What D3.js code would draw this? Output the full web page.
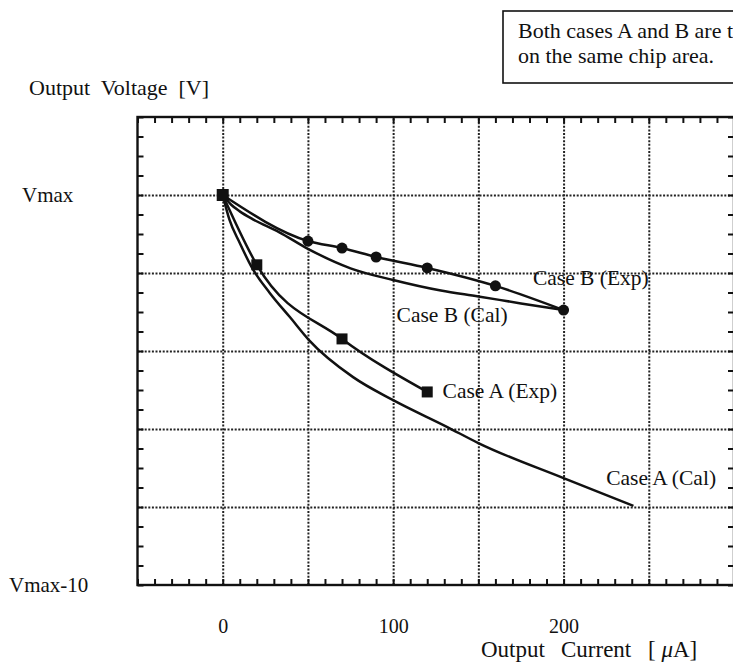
<!DOCTYPE html>
<html>
<head>
<meta charset="utf-8">
<script src="https://cdn.jsdelivr.net/npm/d3@7"></script>
<style>
  body { margin: 0; background: #fff; }
  svg { display: block; }
  text { font-family: "Liberation Serif", "Times New Roman", serif; fill: #111; }
  .grid line { stroke: #222; stroke-width: 2; stroke-dasharray: 2 1.6; }
  .grid path, .ticks path, .xlabels path { display: none; }
  .ticks line { stroke: #111; stroke-width: 2; }
</style>
</head>
<body>
<div class="chart-container"></div>
<script>
// Data (current in uA, voltage relative to Vmax in V)
const caseBExpCurrent = [0, 50, 70, 90, 120, 160, 200];
const caseBExpVoltage = [0, -1.18, -1.36, -1.59, -1.87, -2.33, -2.95];

const caseBCalCurrent = [0, 5, 10, 18, 33, 50, 75, 100, 128, 150, 175, 200];
const caseBCalVoltage = [0, -0.25, -0.42, -0.63, -0.95, -1.38, -1.88, -2.18, -2.45, -2.6, -2.78, -2.95];

const caseAExpCurrent = [0, 20, 70, 120];
const caseAExpVoltage = [0, -1.79, -3.69, -5.05];

const caseACalCurrent = [0, 4, 10, 17, 27.6, 39.4, 50.6, 76.5, 100, 131.8, 150, 200, 241];
const caseACalVoltage = [0, -0.64, -1.23, -1.85, -2.51, -3.13, -3.72, -4.67, -5.26, -5.95, -6.36, -7.26, -7.97];

const xTickValues = [0, 100, 200];
const xTickLabels = ['0', '100', '200'];
const yTickValues = [0, -10];
const yTickLabels = ['Vmax', 'Vmax-10'];

const seriesLabels = [
    { text: 'Case B (Exp)', x: 182, y: -2.31 },
    { text: 'Case B (Cal)', x: 102, y: -3.26 },
    { text: 'Case A (Exp)', x: 129, y: -5.2 },
    { text: 'Case A (Cal)', x: 225, y: -7.44 }
];

const noteLines = ['Both cases A and B are t', 'on the same chip area.'];

const zip = (xs, ys) => xs.map((v, i) => ({ current: v, voltage: ys[i] }));

const width = 733;
const height = 664;

const xScale = d3.scaleLinear().domain([-50, 300]).range([137.5, 734]);
const yScale = d3.scaleLinear().domain([-10, 2]).range([585, 117]);

const svg = d3.select('.chart-container')
    .append('svg')
    .attr('width', width)
    .attr('height', height);

svg.append('rect').attr('width', width).attr('height', height).attr('fill', '#fff');

const plotH = yScale(-10) - yScale(2);
const plotW = xScale(300) - xScale(-50);

// Grid
svg.append('g')
    .attr('class', 'grid')
    .attr('transform', `translate(0, ${yScale(-10)})`)
    .call(d3.axisBottom(xScale).tickValues(d3.range(0, 251, 50)).tickSize(-plotH).tickFormat(''));

svg.append('g')
    .attr('class', 'grid')
    .attr('transform', `translate(${xScale(-50)}, 0)`)
    .call(d3.axisLeft(yScale).tickValues(d3.range(-8, 0.1, 2)).tickSize(-plotW).tickFormat(''));

// Minor ticks (inward) on all four sides
const xMinor = d3.range(-50, 301, 10);
const yMinor = d3.range(-10, 2.01, 0.5);

svg.append('g').attr('class', 'ticks')
    .attr('transform', `translate(0, ${yScale(-10)})`)
    .call(d3.axisBottom(xScale).tickValues(xMinor).tickSize(-6).tickFormat(''));
svg.append('g').attr('class', 'ticks')
    .attr('transform', `translate(0, ${yScale(2)})`)
    .call(d3.axisTop(xScale).tickValues(xMinor).tickSize(-6).tickFormat(''));
svg.append('g').attr('class', 'ticks')
    .attr('transform', `translate(${xScale(-50)}, 0)`)
    .call(d3.axisLeft(yScale).tickValues(yMinor).tickSize(-6).tickFormat(''));
svg.append('g').attr('class', 'ticks')
    .attr('transform', `translate(${xScale(300)}, 0)`)
    .call(d3.axisRight(yScale).tickValues(yMinor).tickSize(-6).tickFormat(''));

// Frame
svg.append('rect')
    .attr('x', xScale(-50))
    .attr('y', yScale(2))
    .attr('width', plotW)
    .attr('height', plotH)
    .attr('fill', 'none')
    .attr('stroke', '#111')
    .attr('stroke-width', 2.4);

// Axis labels
const xLabels = svg.append('g')
    .attr('class', 'xlabels')
    .attr('transform', `translate(0, ${yScale(-10)})`)
    .call(d3.axisBottom(xScale).tickValues(xTickValues).tickSize(0)
        .tickFormat((d, i) => xTickLabels[i]));
xLabels.selectAll('text')
    .attr('y', 48)
    .attr('dy', 0)
    .style('font-size', '20px')
    .style('font-family', '"Liberation Serif", serif');

svg.selectAll('.ylab')
    .data(yTickValues)
    .enter()
    .append('text')
    .attr('class', 'ylab')
    .attr('x', (d, i) => i === 0 ? 22 : 9)
    .attr('y', d => yScale(d) + 7)
    .style('font-size', '21px')
    .text((d, i) => yTickLabels[i]);

svg.append('text')
    .attr('x', 29)
    .attr('y', 95)
    .style('font-size', '22px')
    .style('white-space', 'pre')
    .text('Output  Voltage  [V]');

// x title, words placed with wide gaps as in the original
const xTitle = svg.append('text')
    .attr('y', 657)
    .style('font-size', '23px')
    .style('white-space', 'pre');
xTitle.append('tspan').attr('x', 481).text('Output');
xTitle.append('tspan').attr('x', 561).text('Current');
xTitle.append('tspan').attr('x', 648).text('[ ');
xTitle.append('tspan').style('font-style', 'italic').text('\u03bc');
xTitle.append('tspan').text('A]');

// Note box
svg.append('rect')
    .attr('x', 503)
    .attr('y', 11)
    .attr('width', 250)
    .attr('height', 72)
    .attr('fill', '#fff')
    .attr('stroke', '#111')
    .attr('stroke-width', 1.6);

svg.selectAll('.note')
    .data(noteLines)
    .enter()
    .append('text')
    .attr('class', 'note')
    .attr('x', 518)
    .attr('y', (d, i) => 38 + i * 25)
    .style('font-size', '22px')
    .text(d => d);

// Lines
const line = d3.line()
    .x(d => xScale(d.current))
    .y(d => yScale(d.voltage))
    .curve(d3.curveMonotoneX);

const series = [
    zip(caseACalCurrent, caseACalVoltage),
    zip(caseBCalCurrent, caseBCalVoltage),
    zip(caseAExpCurrent, caseAExpVoltage),
    zip(caseBExpCurrent, caseBExpVoltage)
];

svg.selectAll('.curve')
    .data(series)
    .enter()
    .append('path')
    .attr('class', 'curve')
    .attr('d', line)
    .attr('fill', 'none')
    .attr('stroke', '#111')
    .attr('stroke-width', 2.5);

// Markers
svg.selectAll('.dot')
    .data(zip(caseBExpCurrent, caseBExpVoltage).slice(1))
    .enter()
    .append('circle')
    .attr('class', 'dot')
    .attr('cx', d => xScale(d.current))
    .attr('cy', d => yScale(d.voltage))
    .attr('r', 5.5)
    .attr('fill', '#111');

svg.selectAll('.sq')
    .data(zip(caseAExpCurrent, caseAExpVoltage))
    .enter()
    .append('rect')
    .attr('class', 'sq')
    .attr('x', (d, i) => xScale(d.current) - (i === 0 ? 6 : 5.5))
    .attr('y', (d, i) => yScale(d.voltage) - (i === 0 ? 6 : 5.5))
    .attr('width', (d, i) => i === 0 ? 12 : 11)
    .attr('height', (d, i) => i === 0 ? 12 : 11)
    .attr('fill', '#111');

// Series labels
svg.selectAll('.slab')
    .data(seriesLabels)
    .enter()
    .append('text')
    .attr('class', 'slab')
    .attr('x', d => xScale(d.x))
    .attr('y', d => yScale(d.y))
    .style('font-size', '21.5px')
    .text(d => d.text);
</script>
</body>
</html>
